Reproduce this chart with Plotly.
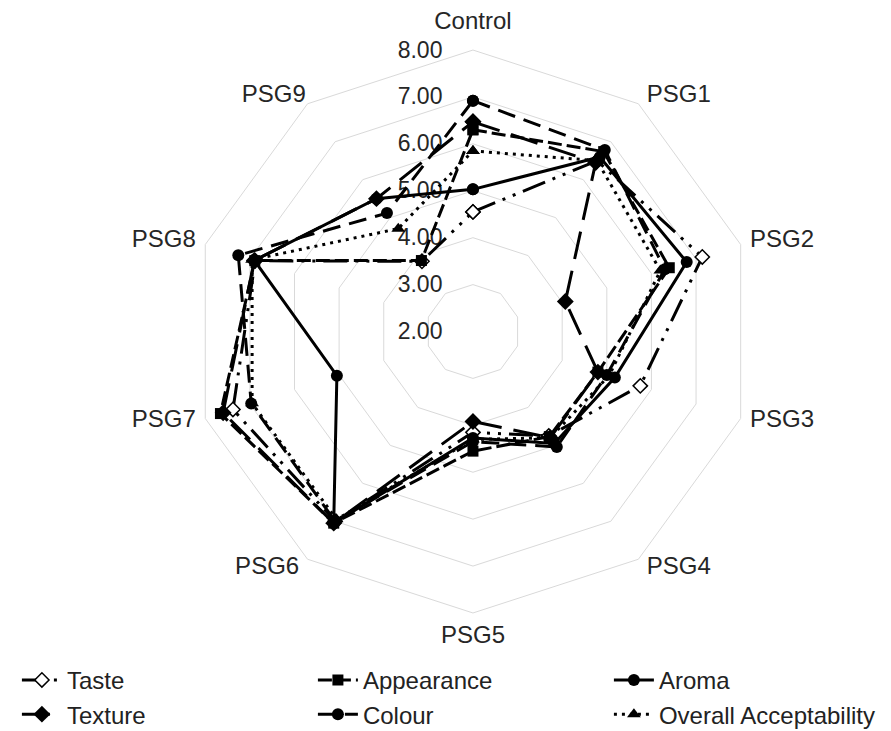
import plotly.graph_objects as go

categories = ["Control", "PSG1", "PSG2", "PSG3", "PSG4", "PSG5", "PSG6", "PSG7", "PSG8", "PSG9"]

taste = [4.55, 6.50, 7.14, 5.75, 4.75, 4.15, 7.00, 7.38, 6.88, 3.85]
texture = [6.47, 6.45, 4.07, 4.80, 4.80, 3.92, 7.05, 7.60, 6.90, 5.50]
appearance = [6.30, 6.74, 6.40, 4.80, 4.77, 4.55, 7.05, 7.66, 6.89, 3.87]
colour = [6.92, 6.78, 6.30, 5.00, 5.04, 4.35, 7.00, 6.97, 7.26, 5.12]
aroma = [5.03, 6.60, 6.79, 5.18, 4.95, 4.27, 7.05, 5.05, 6.90, 5.50]
overall = [5.85, 6.50, 6.20, 5.05, 4.80, 4.30, 6.95, 6.95, 6.95, 4.71]

radial_ticks = [2, 3, 4, 5, 6, 7, 8]
radial_tick_labels = ["2.00", "3.00", "4.00", "5.00", "6.00", "7.00", "8.00"]

FONT = "Liberation Sans, Arial, DejaVu Sans"
TXT = "#262626"
NB = "\u00a0"

series = [
    ("Taste", taste, dict(symbol="diamond", size=11, color="white", line=dict(color="black", width=1.5)),
     "24px,8px,3px,8px,3px,8px", 1),
    ("Texture", texture, dict(symbol="diamond", size=13, color="black"), "28px,12px", 4),
    ("Appearance", appearance, dict(symbol="square", size=11, color="black"), "14px,5px", 2),
    ("Colour", colour, dict(symbol="circle", size=12, color="black"), "18px,9px", 5),
    ("Aroma", aroma, dict(symbol="circle", size=12, color="black"), "solid", 3),
    ("Overall Acceptability", overall, dict(symbol="triangle-up", size=12, color="black"), "3px,5px", 6),
]

# angular tick text shown at 24px, with a little extra room from the outer ring
angular_ticktext = []
for i, c in enumerate(categories):
    t = c
    if 1 <= i <= 4:
        t = NB + c
    elif 6 <= i <= 8:
        t = c + NB
    angular_ticktext.append("<span style='font-size:24px'>%s</span>" % t)
angular_ticktext[0] = angular_ticktext[0] + "<br> "
angular_ticktext[5] = " <br>" + angular_ticktext[5]

fig = go.Figure()
for name, vals, marker, dash, rank in series:
    fig.add_trace(go.Scatterpolar(
        r=vals + vals[:1],
        theta=categories + categories[:1],
        mode="lines+markers",
        name=name,
        legendrank=rank,
        line=dict(color="black", width=3, dash=dash),
        marker=marker,
    ))

fig.update_layout(
    width=891, height=731,
    margin=dict(l=0, r=0, t=0, b=0, autoexpand=False),
    paper_bgcolor="white",
    plot_bgcolor="white",
    font=dict(family=FONT, size=24, color=TXT),
    polar=dict(
        domain=dict(x=[0.2059, 0.8378], y=[0.1724, 0.9425]),
        bgcolor="white",
        gridshape="linear",
        radialaxis=dict(
            range=[2, 8], tickvals=radial_ticks, ticktext=radial_tick_labels,
            angle=90, side="counterclockwise", showline=False, tickangle=90,
            ticks="outside", ticklen=22, tickcolor="rgba(0,0,0,0)",
            gridcolor="#d9d9d9", gridwidth=1, layer="below traces",
            tickfont=dict(family=FONT, size=23, color=TXT),
        ),
        angularaxis=dict(
            direction="clockwise", rotation=90, showgrid=False,
            showline=True, linecolor="#d9d9d9", linewidth=1, ticks="",
            tickvals=categories, ticktext=angular_ticktext,
            layer="below traces",
            tickfont=dict(family=FONT, size=12, color=TXT),
        ),
    ),
    legend=dict(
        orientation="h", x=0.01, xanchor="left", y=0.111, yanchor="top",
        entrywidth=241, entrywidthmode="pixels", itemwidth=40,
        font=dict(family=FONT, size=24, color="#222222"),
        tracegroupgap=0,
    ),
)

fig.write_html("out.html")
